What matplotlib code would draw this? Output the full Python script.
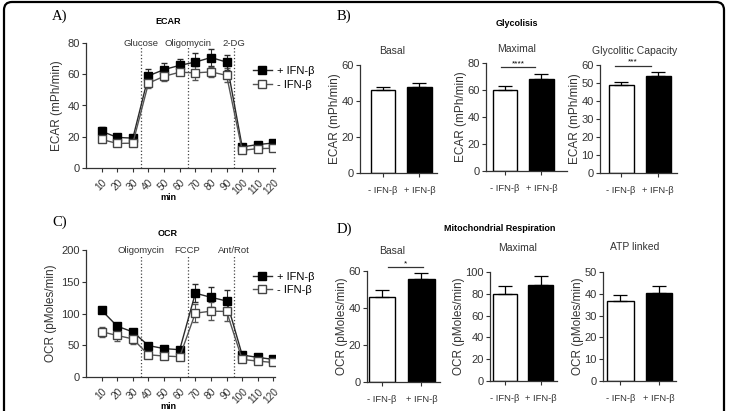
import matplotlib
matplotlib.use("Agg")
import matplotlib.pyplot as plt
from matplotlib.patches import FancyBboxPatch
from matplotlib.lines import Line2D

plt.rcParams['font.family'] = ['Liberation Sans', 'DejaVu Sans']

W, H = 730, 411

# time course data (min)
time = [10, 20, 30, 40, 50, 60, 70, 80, 90, 100, 110, 120]
time_ticks = [10, 20, 30, 40, 50, 60, 70, 80, 90, 100, 110, 120]

ecar_plus = [23.5, 19.6, 19.1, 59.0, 63.0, 65.7, 67.8, 70.7, 67.8, 13.5, 15.0, 16.0]
ecar_plus_err = [2.5, 1.5, 1.5, 4.5, 4.5, 4.0, 5.5, 5.5, 4.8, 1.0, 1.0, 1.0]
ecar_minus = [18.3, 15.7, 15.9, 54.3, 58.7, 61.3, 60.9, 61.5, 59.3, 11.3, 12.4, 12.6]
ecar_minus_err = [1.5, 1.0, 1.0, 3.0, 3.0, 2.0, 4.5, 3.0, 4.5, 0.8, 0.8, 0.8]

ocr_plus = [105, 80, 71, 49.5, 44.7, 43, 132, 125.5, 119.7, 34.6, 30.9, 27.7]
ocr_plus_err = [4, 4, 5, 2, 2, 2, 14, 16, 18, 3, 3, 3]
ocr_minus = [71.3, 65.4, 60, 35, 33, 32, 100.5, 103.7, 103.2, 27.7, 25, 22.9]
ocr_minus_err = [8, 8, 8, 2, 2, 3, 14, 14, 15, 2, 2, 2]

ecar_injections = [35, 65, 95]
ecar_inj_labels = ['Glucose', 'Oligomycin', '2-DG']
ocr_injections = [35, 65, 95]
ocr_inj_labels = ['Oligomycin', 'FCCP', 'Ant/Rot']

# bar data: [- IFN-b, + IFN-b]
groups = ['- IFN-β', '+ IFN-β']
glyco_basal = [46.1, 47.6]
glyco_basal_err = [1.8, 2.2]
glyco_max = [60.2, 68.4]
glyco_max_err = [2.5, 3.2]
glyco_cap = [48.9, 54.0]
glyco_cap_err = [1.8, 2.3]
mito_basal = [45.7, 55.7]
mito_basal_err = [4.0, 3.0]
mito_max = [79.6, 88.1]
mito_max_err = [7.3, 8.5]
mito_atp = [36.6, 40.5]
mito_atp_err = [3.0, 3.1]

fig = plt.figure(figsize=(W / 100, H / 100), dpi=100)

# background axes in pixel coordinates (frame + free text)
bg = fig.add_axes([0, 0, 1, 1], zorder=-1)
bg.set_xlim(0, W)
bg.set_ylim(H, 0)
bg.axis('off')
bg.add_patch(FancyBboxPatch((4, 2), 720, 430, boxstyle='round,pad=0,rounding_size=8',
                            fc='white', ec='black', lw=1.6, clip_on=False))


def px_axes(x0, y0, x1, y1):
    return fig.add_axes([x0 / W, 1 - y1 / H, (x1 - x0) / W, (y1 - y0) / H])


def style(ax):
    for s in ['top', 'right']:
        ax.spines[s].set_visible(False)
    for s in ['left', 'bottom']:
        ax.spines[s].set_linewidth(0.9)
        ax.spines[s].set_color('#333333')
    ax.tick_params(direction='out', length=3, width=0.8, colors='#333333', labelsize=8)
    ax.tick_params(axis='y', pad=1.5)
    ax.set_facecolor('none')


legend_handles = [
    Line2D([], [], color='#2a2a2a', lw=1.0, marker='s', ms=5.5, mfc='black', mec='black'),
    Line2D([], [], color='#555555', lw=1.0, marker='s', ms=5.5, mfc='white', mec='#444444'),
]


def time_panel(ax, plus, plus_err, minus, minus_err, ymax, yticks, ylabel, inj, inj_labels, leg_y):
    style(ax)
    ax.errorbar(time, plus, yerr=plus_err, color='#2a2a2a', lw=1.0, marker='s', ms=5.5,
                mfc='black', mec='black', capsize=2.5, elinewidth=0.8, zorder=3)
    ax.errorbar(time, minus, yerr=minus_err, color='#555555', lw=1.0, marker='s', ms=5.5,
                mfc='white', mec='#444444', capsize=2.5, elinewidth=0.8, zorder=3)
    for x, lab in zip(inj, inj_labels):
        ax.axvline(x, color='#444444', ls=':', lw=0.9, zorder=1)
        ax.text(x, ymax, lab, ha='center', va='center', fontsize=6.8, color='#333333',
                bbox=dict(fc='white', ec='none', pad=0.3), zorder=2)
    ax.set_xlim(0, 121)
    ax.set_ylim(0, ymax)
    ax.set_yticks(yticks)
    ax.set_xticks(time_ticks)
    ax.set_xticklabels([str(t) for t in time_ticks], rotation=45, ha='right', va='top',
                       rotation_mode='anchor', fontsize=7.3)
    ax.tick_params(axis='x', pad=4)
    ax.set_ylabel(ylabel, fontsize=8.5, color='#333333', labelpad=3)
    ax.legend(legend_handles, ['+ IFN-β', '- IFN-β'], loc='center left',
              bbox_to_anchor=(0.83, leg_y), frameon=False, fontsize=8,
              handlelength=1.7, handletextpad=0.5, labelspacing=0.3)


def bar_panel(ax, vals, errs, ymax, yticks, ylabel, xlim, sig=None):
    style(ax)
    x = [0, 1]
    ax.bar(x, vals, width=0.68, color=['white', 'black'], edgecolor='black', lw=1.0, zorder=2)
    ax.errorbar(x, vals, yerr=[[0, 0], errs], fmt='none', ecolor='black', elinewidth=0.9,
                capsize=5, capthick=0.9, zorder=3)
    ax.set_xlim(*xlim)
    ax.set_ylim(0, ymax)
    ax.set_yticks(yticks)
    ax.set_xticks(x)
    ax.set_xticklabels(groups, fontsize=6.8)
    ax.tick_params(axis='x', pad=6)
    ax.set_ylabel(ylabel, fontsize=8.5, color='#333333', labelpad=0.5)
    if sig is not None:
        level, stars, x0, x1 = sig
        ax.plot([x0, x1], [level, level], color='#333333', lw=0.9, clip_on=False)
        ax.text((x0 + x1) / 2, level, stars, ha='center', va='bottom', fontsize=6, clip_on=False)


# panel A: ECAR time course
axA = px_axes(86, 43, 275, 168)
time_panel(axA, ecar_plus, ecar_plus_err, ecar_minus, ecar_minus_err, 80, [0, 20, 40, 60, 80],
           'ECAR (mPh/min)', ecar_injections, ecar_inj_labels, 0.72)
bg.text(168, 21, 'ECAR', ha='center', va='center', fontsize=6.5, fontweight='bold')
bg.text(168, 197, 'min', ha='center', va='center', fontsize=6.5, fontweight='bold')

# panel C: OCR time course
axC = px_axes(86, 250, 275, 377)
time_panel(axC, ocr_plus, ocr_plus_err, ocr_minus, ocr_minus_err, 200, [0, 50, 100, 150, 200],
           'OCR (pMoles/min)', ocr_injections, ocr_inj_labels, 0.735)
bg.text(168, 233, 'OCR', ha='center', va='center', fontsize=6.5, fontweight='bold')
bg.text(168, 406, 'min', ha='center', va='center', fontsize=6.5, fontweight='bold')

# panel B: glycolysis bars
bar_panel(px_axes(360, 65, 437, 173), glyco_basal, glyco_basal_err, 60, [0, 20, 40, 60],
          'ECAR (mPh/min)', (-0.63, 1.48))
bar_panel(px_axes(486, 63, 567, 171), glyco_max, glyco_max_err, 80, [0, 20, 40, 60, 80],
          'ECAR (mPh/min)', (-0.52, 1.7), sig=(76.7, '****', -0.1, 0.83))
bar_panel(px_axes(600, 65, 677, 173), glyco_cap, glyco_cap_err, 60, [0, 10, 20, 30, 40, 50, 60],
          'ECAR (mPh/min)', (-0.57, 1.51), sig=(59.6, '***', -0.17, 0.81))
bg.text(517, 24, 'Glycolisis', ha='center', va='center', fontsize=6.5, fontweight='bold')
for lab, x, y in [('Basal', 392, 51), ('Maximal', 517, 49), ('Glycolitic Capacity', 635, 51)]:
    bg.text(x, y, lab, ha='center', va='center', fontsize=7.5, color='#333333')

# panel D: mitochondrial respiration bars
bar_panel(px_axes(367, 271, 440, 382), mito_basal, mito_basal_err, 60, [0, 20, 40, 60],
          'OCR (pMoles/min)', (-0.38, 1.47), sig=(62, '*', 0.15, 1.04))
bar_panel(px_axes(490, 272, 557, 381), mito_max, mito_max_err, 100, [0, 20, 40, 60, 80, 100],
          'OCR (pMoles/min)', (-0.42, 1.46))
bar_panel(px_axes(603, 272, 676, 381), mito_atp, mito_atp_err, 50, [0, 10, 20, 30, 40, 50],
          'OCR (pMoles/min)', (-0.45, 1.44))
bg.text(500, 228, 'Mitochondrial Respiration', ha='center', va='center', fontsize=6.5,
        fontweight='bold')
for lab, x, y in [('Basal', 392, 251), ('Maximal', 518, 248), ('ATP linked', 635, 247)]:
    bg.text(x, y, lab, ha='center', va='center', fontsize=7.5, color='#333333')

# panel letters
for lab, x, y in [('A)', 60, 16), ('B)', 344, 16), ('C)', 60, 222), ('D)', 344, 229)]:
    bg.text(x, y, lab, ha='center', va='center', fontsize=10.5, family='Liberation Serif')

fig.savefig('out.png', dpi=100)
